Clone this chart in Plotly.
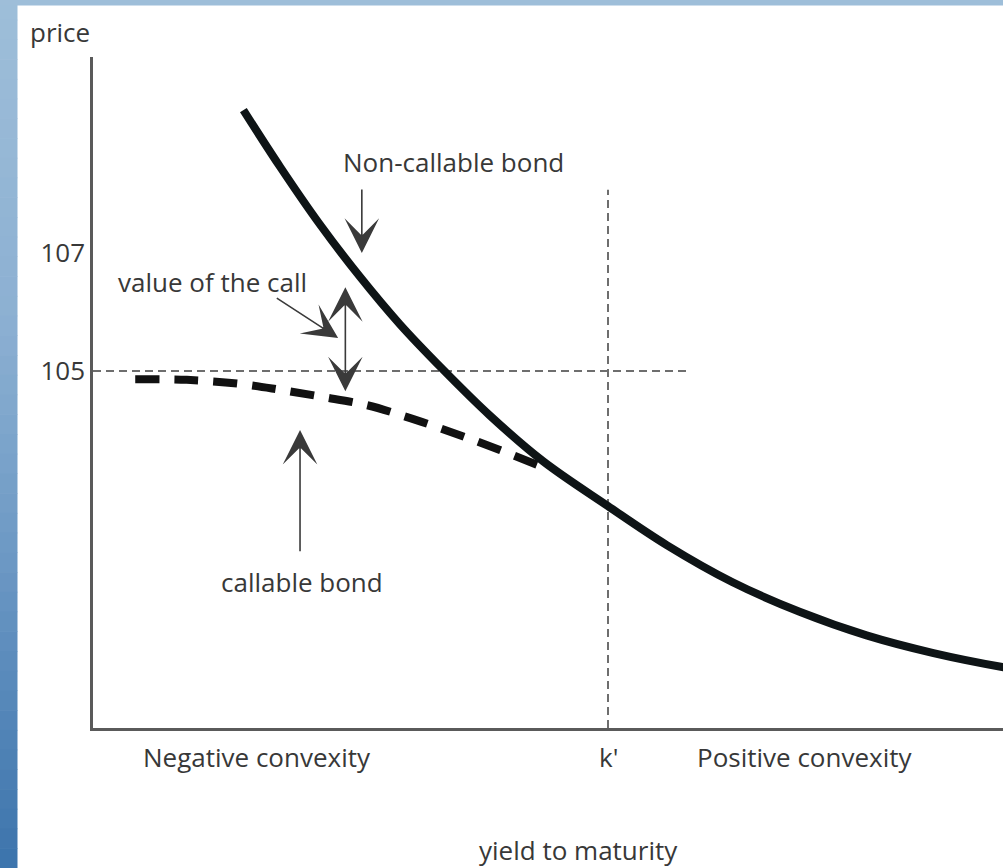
import plotly.graph_objects as go

# ---------------- data (yield units, price units) ----------------
noncall_x = [1.46, 1.82, 2.20, 2.59, 2.98, 3.40, 3.85, 4.37, 5.00, 5.57, 6.21, 6.86, 7.51, 8.16, 8.84, 9.10]
noncall_y = [109.42, 108.45, 107.49, 106.60, 105.79, 105.02, 104.25, 103.47, 102.71, 102.05, 101.42, 100.92, 100.52, 100.22, 99.98, 99.91]

callable_x = [0.41, 0.91, 1.43, 1.82, 2.23, 2.66, 3.08, 3.50, 3.95, 4.44]
callable_y = [104.86, 104.85, 104.78, 104.68, 104.56, 104.42, 104.20, 103.95, 103.66, 103.32]

k_prime = 5.0
call_price = 105
hline_x = [0.0, 5.80]
vline_y = [98.95, 108.07]

y_ticks = [105, 107]
y_ticklabels = ["105", "107"]

x_range = [0, 8.835]
y_range = [98.95, 110.32]

# arrows: (tail_x, tail_y, head_x, head_y)
arrow_noncall = (2.61, 108.10, 2.61, 107.00)
arrow_value = (1.77, 106.25, 2.38, 105.56)
arrow_double = (2.45, 104.63, 2.45, 106.42)
arrow_callable = (2.01, 101.92, 2.01, 104.00)

label_noncall = ("Non-callable bond", 3.50, 108.54)
label_value = ("value of the call", 1.16, 106.51)
label_callable = ("callable bond", 2.03, 101.42)

FONT = "Open Sans"
TXT = "#383838"
FS = 26

fig = go.Figure()

# reference dashed lines
fig.add_trace(go.Scatter(x=hline_x, y=[call_price, call_price], mode="lines",
                         line=dict(color="#6e6e6e", width=2, dash="8px,5px"),
                         hoverinfo="skip", showlegend=False))
fig.add_trace(go.Scatter(x=[k_prime, k_prime], y=vline_y, mode="lines",
                         line=dict(color="#6e6e6e", width=2, dash="8px,5px"),
                         hoverinfo="skip", showlegend=False))

# callable bond (dashed)
fig.add_trace(go.Scatter(x=callable_x, y=callable_y, mode="lines",
                         line=dict(color="#111111", width=8, dash="24px,15px", shape="spline", smoothing=1),
                         name="callable bond", showlegend=False))
# non-callable bond (solid)
fig.add_trace(go.Scatter(x=noncall_x, y=noncall_y, mode="lines",
                         line=dict(color="#0e1416", width=8, shape="spline", smoothing=1),
                         name="Non-callable bond", showlegend=False))

annotations = []

def arrow(a, both=False):
    tx, ty, hx, hy = a
    d = dict(x=hx, y=hy, ax=tx, ay=ty, xref="x", yref="y", axref="x", ayref="y",
             text="", showarrow=True, arrowhead=3, arrowsize=3.6, arrowwidth=1.6,
             arrowcolor="#3a3a3a", standoff=0)
    if both:
        d.update(arrowside="end+start", startarrowhead=3, startarrowsize=3.6, startstandoff=0)
    return d

annotations.append(arrow(arrow_noncall))
annotations.append(arrow(arrow_value))
annotations.append(arrow(arrow_double, both=True))
annotations.append(arrow(arrow_callable))

for t, x, y in (label_noncall, label_value, label_callable):
    annotations.append(dict(x=x, y=y, xref="x", yref="y", text=t, showarrow=False,
                            font=dict(family=FONT, size=FS, color=TXT),
                            xanchor="center", yanchor="middle"))

# outer labels
annotations.append(dict(x=-0.0363, y=1.0373, xref="paper", yref="paper", text="price",
                        showarrow=False, font=dict(family=FONT, size=FS, color=TXT),
                        xanchor="center", yanchor="middle"))
annotations.append(dict(x=1.59, y=-0.0432, xref="x", yref="paper", text="Negative convexity",
                        showarrow=False, font=dict(family=FONT, size=FS, color=TXT),
                        xanchor="center", yanchor="middle"))
annotations.append(dict(x=k_prime, y=-0.0432, xref="x", yref="paper", text="k'",
                        showarrow=False, font=dict(family=FONT, size=FS, color=TXT),
                        xanchor="center", yanchor="middle"))
annotations.append(dict(x=6.91, y=-0.0432, xref="x", yref="paper", text="Positive convexity",
                        showarrow=False, font=dict(family=FONT, size=FS, color=TXT),
                        xanchor="center", yanchor="middle"))
annotations.append(dict(x=4.71, y=-0.1818, xref="x", yref="paper", text="yield to maturity",
                        showarrow=False, font=dict(family=FONT, size=FS, color=TXT),
                        xanchor="center", yanchor="middle"))

# blue frame strips (left gradient + top band)
W, H = 1003, 868
L, R, T, B = 93, 0, 57, 140
pw, ph = W - L - R, H - T - B

def px2paper_x(px):
    return (px - L) / pw

def py2paper_y(py):
    return (H - B - py) / ph

stops = [(0, (158, 190, 217)), (320, (140, 176, 210)), (560, (108, 152, 196)), (868, (60, 116, 172))]

def col_at(y):
    for (y0, c0), (y1, c1) in zip(stops[:-1], stops[1:]):
        if y0 <= y <= y1:
            f = (y - y0) / (y1 - y0)
            return "rgb(%d,%d,%d)" % tuple(round(a + (b - a) * f) for a, b in zip(c0, c1))
    return "rgb(%d,%d,%d)" % stops[-1][1]

shapes = []
n = 44
for i in range(n):
    y0 = H * i / n
    y1 = H * (i + 1) / n + 0.6
    shapes.append(dict(type="rect", xref="paper", yref="paper",
                       x0=px2paper_x(0), x1=px2paper_x(17.5),
                       y0=py2paper_y(y1), y1=py2paper_y(y0),
                       fillcolor=col_at((y0 + y1) / 2), line=dict(width=0), layer="below"))
shapes.append(dict(type="rect", xref="paper", yref="paper",
                   x0=px2paper_x(0), x1=px2paper_x(W),
                   y0=py2paper_y(5.5), y1=py2paper_y(0),
                   fillcolor="rgb(158,190,217)", line=dict(width=0), layer="below"))

fig.update_layout(
    width=W, height=H,
    margin=dict(l=L, r=R, t=T, b=B, pad=0),
    paper_bgcolor="white", plot_bgcolor="white",
    showlegend=False,
    annotations=annotations,
    shapes=shapes,
    xaxis=dict(range=x_range, showgrid=False, zeroline=False, showticklabels=False,
               ticks="", showline=True, linecolor="#5a5a5a", linewidth=2.5, fixedrange=True),
    yaxis=dict(range=y_range, showgrid=False, zeroline=False, tickvals=y_ticks,
               ticktext=y_ticklabels, ticks="", ticklabelstandoff=0,
               tickfont=dict(family=FONT, size=FS, color=TXT),
               showline=True, linecolor="#5a5a5a", linewidth=2.5, fixedrange=True),
)

fig.write_html("out.html", config=dict(displayModeBar=False),
               post_script="document.body.style.margin='0';document.body.style.overflow='hidden';")
